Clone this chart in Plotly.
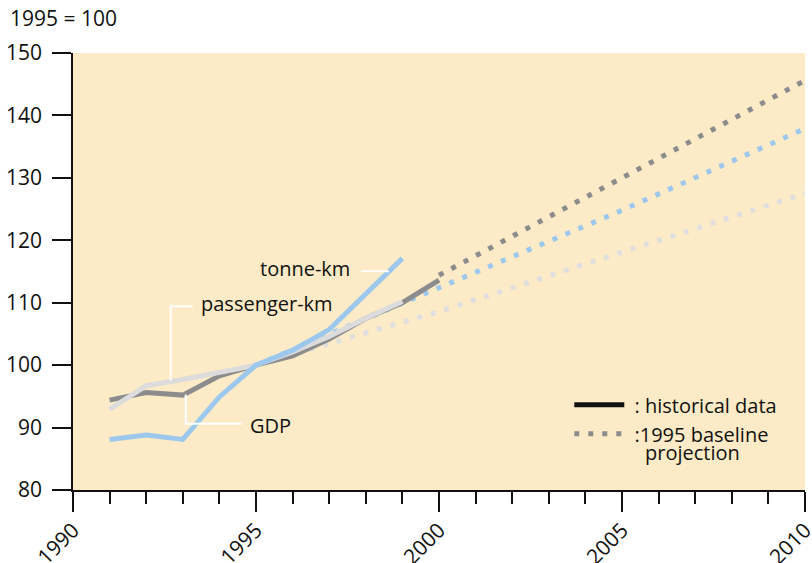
import plotly.graph_objects as go

# ---- data ----
gdp_years = [1991, 1992, 1993, 1994, 1995, 1996, 1997, 1998, 1999, 2000]
gdp_hist = [94.4, 95.6, 95.2, 98.3, 100.0, 101.5, 104.2, 107.5, 110.0, 113.6]

tonne_years = [1991, 1992, 1993, 1994, 1995, 1996, 1997, 1998, 1999]
tonne_hist = [88.1, 88.8, 88.1, 94.9, 100.0, 102.4, 105.7, 111.5, 117.1]

pass_years = [1991, 1992, 1993, 1994, 1995, 1996, 1997, 1998, 1999]
pass_hist = [92.9, 96.7, 97.7, 98.9, 100.0, 102.1, 104.6, 107.5, 110.2]

gdp_proj_years = [2000, 2005, 2010]
gdp_proj = [114.4, 130.0, 145.6]

tonne_proj_years = [1995, 2000, 2005, 2010]
tonne_proj = [100.0, 112.5, 124.8, 137.9]

pass_proj_years = [1995, 2000, 2005, 2010]
pass_proj = [100.0, 108.6, 118.1, 127.5]

x_ticks = [1990, 1995, 2000, 2005, 2010]
y_ticks = [80, 90, 100, 110, 120, 130, 140, 150]

# ---- styles ----
C_GDP = "#8c8c8c"
C_TONNE = "#9dc8ee"
C_PASS = "#dcdcdc"
C_PASS_DOT = "#dfdfdf"
BG = "#fcebc6"
FONT = "Open Sans"
DOT = "5px,9px"

fig = go.Figure()

# projections (drawn first)
fig.add_trace(go.Scatter(x=pass_proj_years, y=pass_proj, mode="lines",
                         line=dict(color=C_PASS_DOT, width=5, dash=DOT), showlegend=False, hoverinfo="skip"))
fig.add_trace(go.Scatter(x=tonne_proj_years, y=tonne_proj, mode="lines",
                         line=dict(color=C_TONNE, width=5, dash=DOT), showlegend=False, hoverinfo="skip"))
fig.add_trace(go.Scatter(x=gdp_proj_years, y=gdp_proj, mode="lines",
                         line=dict(color=C_GDP, width=5, dash=DOT), showlegend=False, hoverinfo="skip"))

# historical
fig.add_trace(go.Scatter(x=gdp_years, y=gdp_hist, mode="lines",
                         line=dict(color=C_GDP, width=5), showlegend=False))
fig.add_trace(go.Scatter(x=pass_years, y=pass_hist, mode="lines",
                         line=dict(color=C_PASS, width=5), showlegend=False))
fig.add_trace(go.Scatter(x=tonne_years, y=tonne_hist, mode="lines",
                         line=dict(color=C_TONNE, width=5), showlegend=False))

# legend entries
fig.add_trace(go.Scatter(x=[None], y=[None], mode="lines", name=" : historical data",
                         line=dict(color="#111111", width=5)))
fig.add_trace(go.Scatter(x=[None], y=[None], mode="lines", name=" :1995 baseline",
                         line=dict(color=C_GDP, width=5, dash=DOT)))

# leader lines (white)
lead = dict(color="white", width=2)
fig.add_shape(type="line", x0=1997.87, x1=1998.63, y0=115.05, y1=115.05, line=lead, xref="x", yref="y")
fig.add_shape(type="path", path="M 1993.27,109.44 L 1992.67,109.44 L 1992.67,97.56", line=lead, xref="x", yref="y")
fig.add_shape(type="path", path="M 1993.08,95.31 L 1993.08,90.61 L 1994.61,90.61", line=lead, xref="x", yref="y")

ann_font = dict(family=FONT, size=20, color="#111111")
fig.add_annotation(x=1997.62, y=115.5, text="tonne-km", showarrow=False, xanchor="right", yanchor="middle", font=ann_font)
fig.add_annotation(x=1993.44, y=109.9, text="passenger-km", showarrow=False, xanchor="left", yanchor="middle", font=ann_font)
fig.add_annotation(x=1994.78, y=90.4, text="GDP", showarrow=False, xanchor="left", yanchor="middle", font=ann_font)
fig.add_annotation(x=0.7787, y=0.0856, xref="paper", yref="paper", text="projection", showarrow=False,
                   xanchor="left", yanchor="middle", font=ann_font)
fig.add_annotation(x=-0.089, y=1.08, xref="paper", yref="paper", text="1995 = 100", showarrow=False,
                   xanchor="left", yanchor="middle", font=dict(family=FONT, size=21, color="#111111"))

tick_font = dict(family=FONT, size=21, color="#111111")
fig.update_layout(
    width=812, height=563,
    margin=dict(l=73, r=7, t=53, b=73, autoexpand=False),
    paper_bgcolor="white",
    plot_bgcolor=BG,
    font=dict(family=FONT, size=20, color="#111111"),
    legend=dict(x=0.678, y=0.2396, xanchor="left", yanchor="top", bgcolor="rgba(0,0,0,0)",
                font=dict(family=FONT, size=20, color="#111111"), itemwidth=50, valign="top",
                tracegroupgap=0),
    xaxis=dict(range=[1990, 2010], tickvals=x_ticks, ticktext=[str(v) for v in x_ticks],
               tickangle=-45, ticks="outside", ticklen=20, tickcolor="#111111", tickwidth=1.5,
               tickfont=tick_font, automargin=False, ticklabeloverflow="allow", ticklabelstandoff=-2,
               showline=True, linecolor="#111111", linewidth=1.5, showgrid=False, zeroline=False,
               minor=dict(dtick=1, tick0=1990, ticks="outside", ticklen=12, tickcolor="#111111", tickwidth=1.5, showgrid=False)),
    yaxis=dict(range=[80, 150], tickvals=y_ticks, ticks="outside", ticklen=19, tickcolor="#111111", tickwidth=1.5,
               tickfont=tick_font, automargin=False, ticklabelstandoff=6,
               showline=True, linecolor="#111111", linewidth=1.5, showgrid=False, zeroline=False),
)

fig.write_html("out.html", config={"displayModeBar": False},
               post_script="document.body.style.margin='0';document.body.style.overflow='hidden';")
